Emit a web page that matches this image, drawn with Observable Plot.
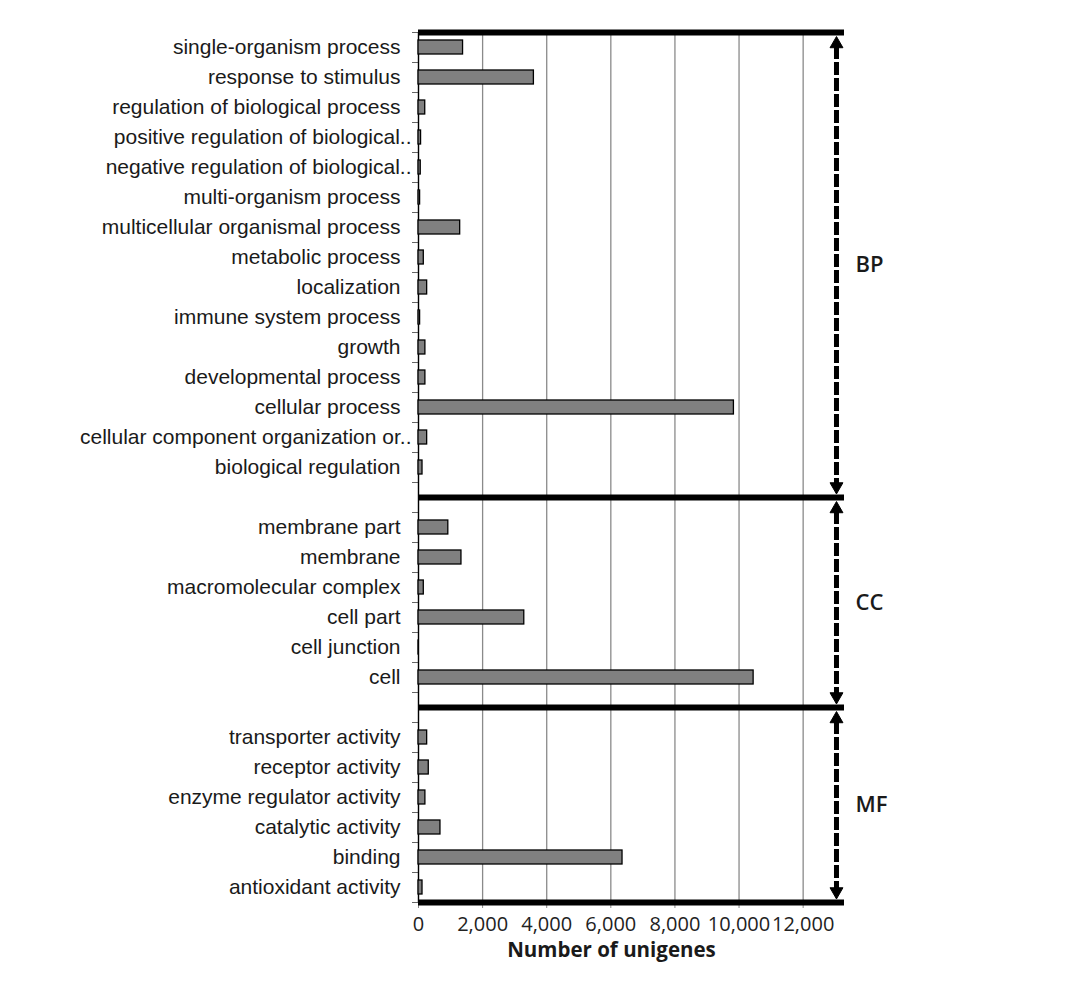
<!DOCTYPE html>
<html>
<head>
<meta charset="utf-8">
<script src="https://cdn.jsdelivr.net/npm/d3@7"></script>
<script src="https://cdn.jsdelivr.net/npm/@observablehq/plot@0.6"></script>
<style>
  html, body { margin: 0; padding: 0; background: #fff; }
</style>
</head>
<body>
<div id="chart"></div>
<script>
const bpCategories = [
  "single-organism process",
  "response to stimulus",
  "regulation of biological process",
  "positive regulation of biological..",
  "negative regulation of biological..",
  "multi-organism process",
  "multicellular organismal process",
  "metabolic process",
  "localization",
  "immune system process",
  "growth",
  "developmental process",
  "cellular process",
  "cellular component organization or..",
  "biological regulation"
];
const bpValues = [1390, 3600, 210, 80, 70, 50, 1300, 165, 270, 50, 215, 215, 9840, 270, 125];

const ccCategories = ["membrane part", "membrane", "macromolecular complex", "cell part", "cell junction", "cell"];
const ccValues = [930, 1340, 165, 3300, 10, 10455];

const mfCategories = ["transporter activity", "receptor activity", "enzyme regulator activity", "catalytic activity", "binding", "antioxidant activity"];
const mfValues = [270, 320, 215, 685, 6365, 125];

const groupNames = ["BP", "CC", "MF"];
const xTicks = [0, 2000, 4000, 6000, 8000, 10000, 12000];
const xMax = 13290;
const arrowX = 13040;
const xLabel = "Number of unigenes";

// Build rows: each category occupies one slot; one blank slot separates groups
const groups = [
  {name: groupNames[0], cats: bpCategories, vals: bpValues},
  {name: groupNames[1], cats: ccCategories, vals: ccValues},
  {name: groupNames[2], cats: mfCategories, vals: mfValues}
];
const rows = [];
const spans = [];
let idx = 0;
groups.forEach((g, gi) => {
  const start = gi === 0 ? idx : idx - 0.5;
  g.cats.forEach((c, i) => { rows.push({cat: c, value: g.vals[i], i: idx, trunc: c.endsWith("..")}); idx++; });
  const end = gi === groups.length - 1 ? idx : idx + 0.5;
  spans.push({name: g.name, y1: start, y2: end, mid: (start + end) / 2});
  if (gi < groups.length - 1) idx++; // blank slot
});
const nSlots = idx;
const separators = [0, ...spans.map(s => s.y2)];

const labelFont = "'Liberation Sans', Arial, sans-serif";
const uiFont = "'Open Sans', 'DejaVu Sans', sans-serif";

const chart = Plot.plot({
  width: 1086,
  height: 985,
  marginLeft: 418,
  marginRight: 242,
  marginTop: 32,
  marginBottom: 83,
  style: {fontFamily: uiFont, background: "#fff"},
  x: {domain: [0, xMax]},
  y: {domain: [0, nSlots], reverse: true},
  marks: [
    Plot.gridX(xTicks, {stroke: "#8a8a8a", strokeOpacity: 1, strokeWidth: 1.3}),
    Plot.axisX(xTicks, {
      tickFormat: d3.format(","), tickSize: 6, tickPadding: 8,
      fontSize: 20, stroke: "#8a8a8a", fill: "#222", label: null
    }),
    Plot.axisY(d3.range(0, nSlots + 1), {
      tickFormat: () => "", tickSize: 6, stroke: "#666", label: null
    }),
    Plot.ruleX([0], {y1: 0, y2: nSlots, stroke: "#000", strokeWidth: 1.3}),
    Plot.rectX(rows, {
      x1: 0, x2: "value",
      y1: "i", y2: d => d.i + 1,
      insetTop: 8, insetBottom: 8,
      fill: "#808080", stroke: "#000", strokeWidth: 1.3
    }),
    Plot.text(rows.filter(d => !d.trunc), {
      x: 0, y: d => d.i + 0.5, text: "cat",
      textAnchor: "end", dx: -18,
      fontFamily: labelFont, fontSize: 21, fill: "#1a1a1a"
    }),
    Plot.text(rows.filter(d => d.trunc), {
      x: 0, y: d => d.i + 0.5, text: "cat",
      textAnchor: "end", dx: -7,
      fontFamily: labelFont, fontSize: 21, fill: "#1a1a1a"
    }),
    Plot.ruleY(separators, {x1: 0, x2: xMax, stroke: "#000", strokeWidth: 6}),
    Plot.ruleX(spans, {
      x: arrowX, y1: "y1", y2: "y2",
      insetTop: 14, insetBottom: 14,
      stroke: "#000", strokeWidth: 5, strokeDasharray: "13,3"
    }),
    Plot.dot(spans, {
      x: arrowX, y: "y1", dy: 11.5, symbol: "triangle", r: 4.8,
      fill: "#000", stroke: "#000", strokeWidth: 1
    }),
    Plot.dot(spans, {
      x: arrowX, y: "y2", dy: -11, symbol: "triangle", rotate: 180, r: 4.8,
      fill: "#000", stroke: "#000", strokeWidth: 1
    }),
    Plot.text(spans, {
      x: xMax, y: "mid", text: "name",
      textAnchor: "start", dx: 11,
      fontFamily: uiFont, fontSize: 22, fontWeight: 600, fill: "#1a1a1a"
    }),
    Plot.text([xLabel], {
      frameAnchor: "bottom", dx: -20, dy: 54,
      text: d => d,
      fontFamily: uiFont, fontSize: 20.5, fontWeight: 700, fill: "#1a1a1a"
    })
  ]
});
document.getElementById("chart").appendChild(chart);
</script>
</body>
</html>
